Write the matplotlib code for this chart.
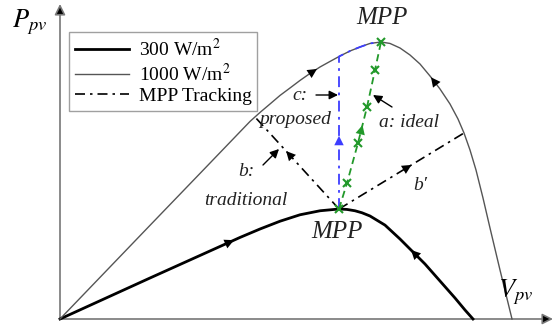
import numpy as np
import matplotlib
matplotlib.use('Agg')
import matplotlib.pyplot as plt

plt.rcParams['font.family'] = 'serif'
plt.rcParams['font.serif'] = ['Liberation Serif', 'DejaVu Serif']
plt.rcParams['mathtext.fontset'] = 'stix'

# P-V curves (V in volts, P in watts)
v_1000 = [0.0, 9.3, 14.0, 19.0, 20.0, 21.0, 22.0, 23.0, 24.0, 25.0, 26.0,
          27.0, 28.0, 29.0, 30.0, 31.0, 32.1, 33.0, 34.0, 35.0, 36.0, 37.0,
          38.0, 39.0, 39.8, 40.4, 41.0, 41.6, 42.3, 43.0, 44.0, 45.2]
p_1000 = [0.0, 87.1, 131.0, 177.8, 185.9, 193.5, 201.2, 207.9, 214.7, 221.0,
          226.8, 231.8, 236.7, 241.2, 244.8, 248.0, 249.3, 248.0, 243.9, 237.6,
          229.5, 218.7, 207.0, 193.5, 180.0, 167.4, 152.1, 134.1, 108.9, 81.9,
          44.1, 0.0]
v_300 = [0.0, 9.0, 18.0, 20.0, 22.0, 24.0, 26.0, 27.9, 28.7, 29.5, 30.2,
         31.0, 32.5, 34.0, 35.2, 36.5, 38.0, 39.5, 40.5, 41.3]
p_300 = [0.0, 36.9, 73.4, 81.0, 88.0, 93.8, 97.4, 99.0, 98.6, 97.4, 95.6,
         92.7, 84.5, 72.0, 61.2, 49.5, 34.2, 18.9, 8.1, 0.0]

mpp_300 = (27.9, 99.0)
mpp_1000 = (32.1, 249.3)

# intermediate operating points of the ideal tracker
v_ideal = [27.9, 28.7, 29.8, 30.7, 31.5, 32.1]
p_ideal = [99.0, 122.4, 158.4, 190.8, 224.1, 249.3]

# end points of the fixed-voltage perturbations
trad_end = (19.5, 181.8)
trad_end_r = (40.4, 167.4)

fig = plt.figure(figsize=(5.54, 3.27), dpi=100)
ax = fig.add_axes([0, 0, 1, 1])
ax.set_xlim(-6.0, 49.4)
ax.set_ylim(-7.2, 287.1)
ax.axis('off')

# axes with arrow heads
for tip in [(0, 283.5), (49.3, 0)]:
    ax.annotate('', xy=tip, xytext=(0, 0),
                arrowprops=dict(arrowstyle='-|>', color='#777777', lw=1.2,
                                mutation_scale=16, shrinkA=0, shrinkB=0, fc='k'))

ax.plot(v_300, p_300, color='k', lw=2.0, label='300 W/m$^2$', zorder=3)
ax.plot(v_1000, p_1000, color='#555555', lw=1.0, label='1000 W/m$^2$', zorder=3)

dashdot = (0, (6, 3, 1.5, 3))
blue = '#3d3dff'
green = '#22992a'

# traditional P&O: fixed voltage steps
ax.plot([mpp_300[0], trad_end[0]], [mpp_300[1], trad_end[1]], color='k',
        lw=1.2, ls=dashdot, label='MPP Tracking')
ax.plot([mpp_300[0], trad_end_r[0]], [mpp_300[1], trad_end_r[1]], color='k',
        lw=1.2, ls=dashdot)

# proposed: vertical jump then along the curve
i_mpp = int(np.argmax(p_1000))
v_left, p_left = v_1000[:i_mpp + 1], p_1000[:i_mpp + 1]
v_top = np.interp(mpp_300[0], v_left, p_left)
seg = [i for i, v in enumerate(v_left) if v > mpp_300[0]]
v_prop = [mpp_300[0], mpp_300[0]] + [v_1000[i] for i in seg]
p_prop = [mpp_300[1], v_top] + [p_1000[i] for i in seg]
ax.plot(v_prop, p_prop, color=blue, lw=1.3, ls=dashdot, zorder=4)

# ideal tracking
ax.plot(v_ideal, p_ideal, color=green, lw=1.3, ls=(0, (4, 2.5)),
        marker='x', ms=6, mew=1.5, zorder=5)


def head(p, q, color='k', size=17):
    ax.annotate('', xy=q, xytext=p,
                arrowprops=dict(arrowstyle='-|>', color=color, lw=0,
                                mutation_scale=size, shrinkA=0, shrinkB=0),
                zorder=6)


def arrow_on(xs, ys, x0, dx, color='k'):
    # head on a curve at abscissa x0, pointing toward x0 + dx
    head((x0, np.interp(x0, xs, ys)), (x0 + dx, np.interp(x0 + dx, xs, ys)),
         color)


def arrow_along(p, q, t, color='k'):
    # head on a straight segment p->q at fraction t
    a = (p[0] + t * (q[0] - p[0]), p[1] + t * (q[1] - p[1]))
    b = (p[0] + (t + 0.05) * (q[0] - p[0]), p[1] + (t + 0.05) * (q[1] - p[1]))
    head(a, b, color)


arrow_on(v_300, p_300, 17.0, 0.4)
arrow_on(v_300, p_300, 35.4, -0.3)
arrow_on(v_1000, p_1000, 25.3, 0.4)
arrow_on(v_1000, p_1000, 37.4, -0.3)

arrow_along(mpp_300, trad_end, 0.58)
arrow_along(mpp_300, trad_end_r, 0.53)
arrow_along(mpp_300, (mpp_300[0], v_top), 0.43, color=blue)
arrow_along((v_ideal[2], p_ideal[2]), (v_ideal[3], p_ideal[3]), 0.45,
            color=green)

txt = dict(fontsize=14, fontstyle='italic', color='#222222',
           ha='center', va='center')
ax.text(32.2, 271.0, 'MPP', fontsize=18, fontstyle='italic', ha='center',
        va='center', color='#222222')
ax.text(27.7, 78.0, 'MPP', fontsize=18, fontstyle='italic', ha='center',
        va='center', color='#222222')
ax.text(24.0, 201.6, 'c:', **txt)
ax.text(23.5, 180.0, 'proposed', **txt)
ax.text(34.9, 176.4, 'a: ideal', **txt)
ax.text(18.6, 132.3, 'b:', **txt)
ax.text(18.6, 106.5, 'traditional', **txt)
ax.text(36.0, 120.6, "b\u2032", **txt)

pointer = dict(arrowstyle='-|>', color='k', lw=1.0, mutation_scale=13,
               shrinkA=0, shrinkB=0)
ax.annotate('', xy=(27.8, 201.6), xytext=(25.6, 201.6), arrowprops=pointer)
ax.annotate('', xy=(31.3, 201.6), xytext=(33.2, 190.8), arrowprops=pointer)
ax.annotate('', xy=(21.9, 153.0), xytext=(20.3, 138.6), arrowprops=pointer)

ax.text(-3.0, 267.0, '$P_{pv}$', fontsize=19, ha='center', va='center')
ax.text(45.6, 24.0, '$V_{pv}$', fontsize=19, ha='center', va='center')

leg = ax.legend(loc='upper left', bbox_to_anchor=(0.124, 0.903),
                borderaxespad=0, fancybox=False, fontsize=14,
                handlelength=2.8, labelspacing=0.15, borderpad=0.3,
                handletextpad=0.5)
leg.get_frame().set_edgecolor('#888888')
leg.get_frame().set_linewidth(1.0)

fig.savefig('out.png', dpi=100)
